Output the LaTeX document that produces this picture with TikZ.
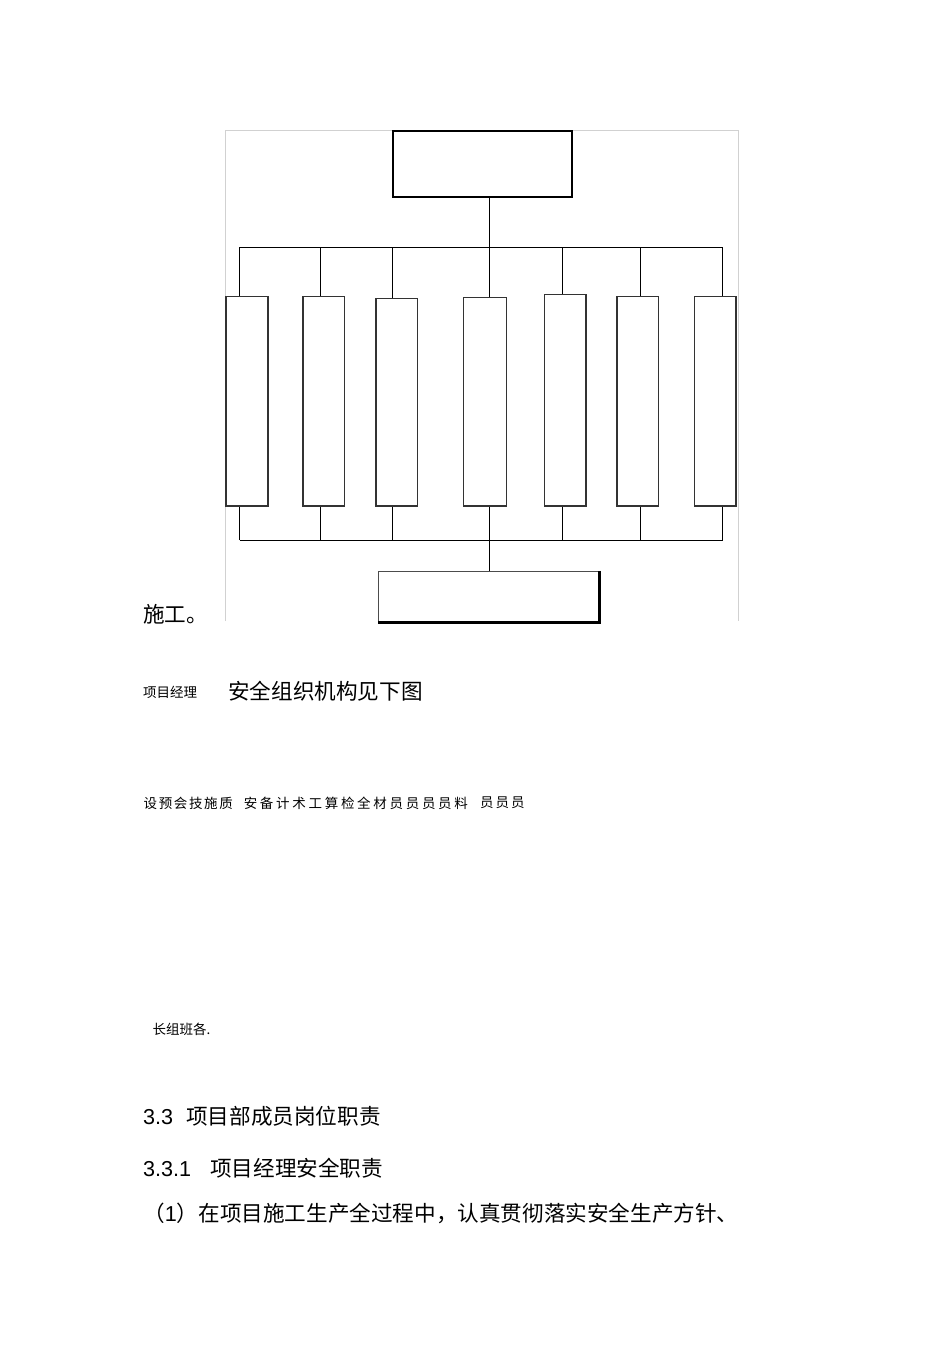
\documentclass[tikz,border=0pt]{standalone}
\usepackage{fontspec}
\setmainfont{Noto Sans CJK SC}
\newfontfamily\latinfont{Liberation Sans}
\usetikzlibrary{positioning,calc}

\begin{document}
\begin{tikzpicture}[x=1pt,y=-1pt,
    % 顶部方框样式
    top box/.style={
        rectangle,             % 方形节点
        draw,                  % 绘制边框
        line width=2pt,        % 粗边框
        inner sep=0pt
    },
    % 竖排方框样式
    col box/.style={
        rectangle,
        draw=black!80,
        line width=1.5pt,
        inner sep=0pt
    },
    % 连线样式
    link/.style={
        draw,
        line width=1pt
    },
    % 外框线样式
    frame line/.style={draw=black!18, line width=0.8pt},
    % 正文样式
    big text/.style={anchor=west, inner sep=0pt, font=\fontsize{21.6}{26}\selectfont},
    small text/.style={anchor=west, inner sep=0pt, font=\fontsize{13.5}{16}\selectfont}
]
\useasboundingbox (0,0) rectangle (950,1345);

% 外框
\draw[frame line] (225,621) -- (225,130.5) -- (738.6,130.5) -- (738.6,621);

% 顶部方框
\node[top box, minimum width=179pt, minimum height=66pt] (mgr) at (482.75,164) {};

% 竖排方框
\foreach \n/\cx/\w/\cy/\h in {1/247.1/42/401.2/209.7, 2/323.7/41.4/401.2/209.7,
    3/396.6/41.3/402.3/207.4, 4/484.9/43/401.6/208.7, 5/565.1/41.4/400.3/211.4,
    6/637.6/41.3/401.2/209.7, 7/715.3/41.4/401.2/209.7}
    \node[col box, minimum width=\w pt, minimum height=\h pt] (c\n) at (\cx,\cy) {};

% 底部方框
\node[rectangle, draw=black!70, line width=1.2pt, inner sep=0pt,
    minimum width=220.3pt, minimum height=50.2pt] (team) at (488.45,596.6) {};
\draw[line width=2.6pt] (team.north east) -- (team.south east) -- (team.south west);

% 上下总线
\coordinate (bus top) at (489.5,247);
\coordinate (bus bot) at (489.5,540);
\foreach \n/\dx in {1/239.7, 2/320.7, 3/392.9, 4/489.5, 5/562.4, 6/640.3, 7/722.7}
    \coordinate (d\n) at (\dx,247);

\draw[link] (mgr.south -| bus top) -- (bus top);
\draw[link] (d1) -- (d7);
\draw[link] (d1 |- bus bot) -- (d7 |- bus bot);
\foreach \n in {1,...,7} {
    \draw[link] (d\n) -- (d\n |- c\n.north);
    \draw[link] (d\n |- c\n.south) -- (d\n |- bus bot);
}
\draw[link] (bus bot) -- (bus bot |- team.north);

% 文字
\node[big text] (t1) at (143,614) {施工。};
\node[small text] (t2) at (143,692) {项目经理};
\node[big text] (t3) at (228,691) {安全组织机构见下图};
\node[small text, font=\fontsize{13.5}{16}\selectfont\addfontfeature{LetterSpace=12}] (t4a) at (143.5,803) {设预会技施质};
\node[small text, font=\fontsize{13.5}{16}\selectfont\addfontfeature{LetterSpace=20}] (t4b) at (243.6,803) {安备计术工算检全材员员员员料};
\node[small text, font=\fontsize{13.5}{16}\selectfont\addfontfeature{LetterSpace=15}] (t4c) at (480,803) {员员员};
\node[small text] (t5) at (152.5,1029) {长组班各.};
\node[big text] (t6) at (143,1116) {{\latinfont 3.3}\hspace{13pt}项目部成员岗位职责};
\node[big text] (t7) at (143,1168) {{\latinfont 3.3.1}\hspace{19pt}项目经理安全职责};
\node[big text] (t8) at (143,1213) {（{\latinfont 1}）在项目施工生产全过程中，认真贯彻落实安全生产方针、};

\end{tikzpicture}
\end{document}
